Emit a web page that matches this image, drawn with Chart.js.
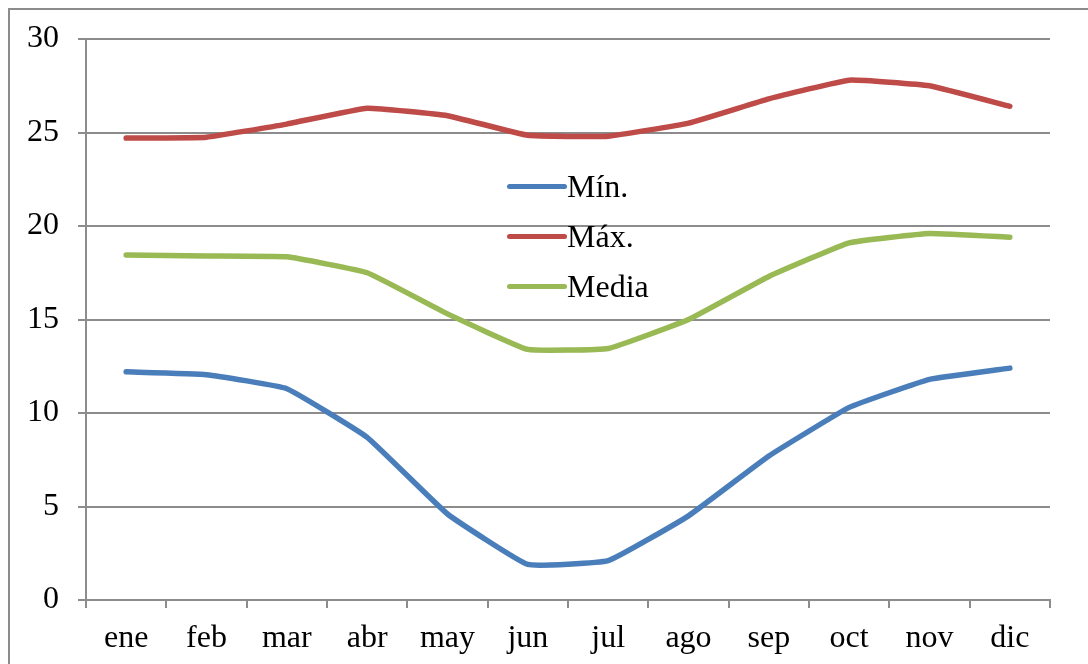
<!DOCTYPE html>
<html>
<head>
<meta charset="utf-8">
<script src="https://cdn.jsdelivr.net/npm/chart.js@4"></script>
<style>
  html, body { margin: 0; padding: 0; background: #fff; }
  #wrap { position: relative; width: 1088px; height: 664px; overflow: hidden; }
  #frame { position: absolute; left: 8px; top: 8px; right: -10px; bottom: -10px;
           border-left: 2px solid #8c8c8c; border-top: 2px solid #8c8c8c; pointer-events: none; }
  #legend { position: absolute; left: 507px; top: 161px; font-family: "Liberation Serif", "Times New Roman", serif;
            font-size: 32px; color: #000; }
  #legend .item { display: flex; align-items: center; height: 50px; }
  #legend .sw { width: 60px; height: 5px; border-radius: 3px; }
</style>
</head>
<body>
<div id="wrap">
  <canvas id="chart" width="1088" height="664"></canvas>
  <div id="frame"></div>
  <div id="legend"></div>
</div>
<script>
// Monthly temperatures (°C): minimum, maximum and mean
const MONTHS = ["ene", "feb", "mar", "abr", "may", "jun", "jul", "ago", "sep", "oct", "nov", "dic"];
const T_MIN = [12.2, 12.05, 11.3, 8.7, 4.6, 1.9, 2.1, 4.5, 7.7, 10.3, 11.8, 12.4];
const T_MAX = [24.7, 24.75, 25.45, 26.3, 25.9, 24.85, 24.8, 25.5, 26.8, 27.8, 27.5, 26.4];
const T_MED = [18.45, 18.4, 18.35, 17.5, 15.3, 13.4, 13.45, 15.0, 17.3, 19.1, 19.6, 19.4];
const Y_TICKS = [0, 5, 10, 15, 20, 25, 30];

const SERIES = [
  { label: "Mín.", data: T_MIN, color: "#4a7ebb" },
  { label: "Máx.", data: T_MAX, color: "#be4b48" },
  { label: "Media", data: T_MED, color: "#98b954" },
];

const FONT = { family: "'Liberation Serif', 'Times New Roman', serif", size: 32 };
const GRID = "#8c8c8c";

new Chart(document.getElementById("chart"), {
  type: "line",
  data: {
    labels: MONTHS,
    datasets: SERIES.map((s) => ({
      label: s.label,
      data: s.data,
      borderColor: s.color,
      backgroundColor: s.color,
      borderWidth: 5.5,
      pointRadius: 0,
      tension: 0.1,
      borderCapStyle: "round",
      borderJoinStyle: "round",
    })),
  },
  options: {
    responsive: false,
    animation: false,
    layout: { padding: { top: 39, right: 38, left: 0, bottom: 0 } },
    plugins: { legend: { display: false }, tooltip: { enabled: false } },
    scales: {
      x: {
        offset: true,
        grid: { offset: true, drawOnChartArea: false, drawTicks: true, tickLength: 8, color: GRID, lineWidth: 2 },
        border: { color: GRID, width: 2 },
        ticks: { color: "#000", font: FONT, padding: 11, maxRotation: 0 },
        afterFit: (s) => { s.height = 64; },
      },
      y: {
        min: 0,
        max: 30,
        afterBuildTicks: (s) => { s.ticks = Y_TICKS.map((v) => ({ value: v })); },
        grid: { color: GRID, lineWidth: 2, tickLength: 8 },
        border: { color: GRID, width: 2 },
        ticks: { color: "#000", font: FONT, padding: 19 },
        afterFit: (s) => { s.width = 86; },
      },
    },
  },
});

// HTML legend placed inside the plot area
document.getElementById("legend").innerHTML = SERIES.map(
  (s) => `<div class="item"><div class="sw" style="background:${s.color}"></div><div class="lbl">${s.label}</div></div>`
).join("");
</script>
</body>
</html>
